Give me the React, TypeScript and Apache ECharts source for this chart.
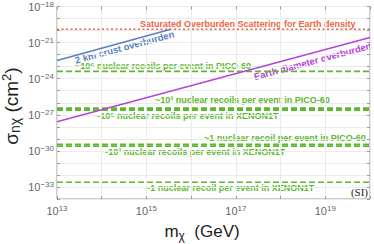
import React, { useEffect, useRef } from "react";
import * as echarts from "echarts";

// axis ranges (actual values, drawn on log10 scale)
const massRange = [1e13, 1e20];
const sigmaRange = [1e-34, 1e-18];
const xLabelExponents = [13, 15, 17, 19];
const yLabelExponents = [-33, -30, -27, -24, -21, -18];

// curves
const saturatedSigma = 1.3e-20;
const crustMass = [1e13, 3.5e15];
const crustSigma = [3.3e-23, 1.3e-20];
const earthMass = [1e13, 1e20];
const earthSigma = [2.6e-28, 2.7e-21];

// recoil thresholds: ~1e6, ~1e3, ~1 recoils per event
const picoSigma = [4e-24, 3.5e-27, 3.5e-30];
const xenonSigma = [2.5e-27, 2.5e-30, 2.5e-33];

const lg = (v: number) => Math.log10(v);

const GREEN = "#5cb82c";
const RED = "#f0623e";
const BLUE = "#5b7fc0";
const PURPLE = "#b446d6";
const FONT = "Liberation Sans";

export default function App() {
  const ref = useRef<HTMLDivElement>(null);
  useEffect(() => {
    if (!ref.current) return;
    const chart = echarts.init(ref.current, undefined, { renderer: "svg" });
    const xMin = lg(massRange[0]);
    const xMax = lg(massRange[1]);
    const yMin = lg(sigmaRange[0]);
    const yMax = lg(sigmaRange[1]);

    const hLine = (v: number) => [
      [xMin, lg(v)],
      [xMax, lg(v)],
    ];
    const pairs = (xs: number[], ys: number[]) => xs.map((x, i) => [lg(x), lg(ys[i])]);

    const supRich = {
      b: { fontSize: 11, color: "#666", fontFamily: FONT, lineHeight: 12, verticalAlign: "middle" },
      s: { fontSize: 8, color: "#666", fontFamily: FONT, lineHeight: 8, padding: [0, 0, 5, 0], verticalAlign: "middle" },
    };
    const expLabel = (list: number[]) => (v: number) => {
      const n = Math.round(v);
      if (!list.includes(n)) return "";
      return `{b|10}{s|${String(n).replace("-", "\u2212")}}`;
    };

    const dashed = (name: string, v: number, width: number) => ({
      name,
      type: "line",
      data: hLine(v),
      symbol: "none",
      silent: true,
      lineStyle: { color: GREEN, width, type: [6, 3] },
    });

    const baseAxis = {
      type: "value",
      axisLine: { show: false },
      axisTick: { show: true, inside: true, length: 3, lineStyle: { color: "#999" } },
      splitLine: { show: true, lineStyle: { color: "#ebebeb", width: 1 } },
      interval: 1,
    };

    const greenText = (text: string, x: number, y: number) => ({
      type: "text",
      x,
      y,
      silent: true,
      style: {
        text,
        fill: GREEN,
        font: `bold 9px "${FONT}"`,
        textAlign: "left",
        textVerticalAlign: "middle",
      },
    });

    const angle = Math.atan(12.06 / 44.71);

    chart.setOption({
      animation: false,
      grid: {
        left: 57,
        top: 6,
        right: 4,
        bottom: 45,
        show: true,
        borderColor: "#999",
        borderWidth: 1,
        backgroundColor: "transparent",
      },
      xAxis: [
        {
          ...baseAxis,
          min: xMin,
          max: xMax,
          axisLabel: { formatter: expLabel(xLabelExponents), rich: supRich, margin: 6, showMinLabel: true, showMaxLabel: true },
        },
        {
          ...baseAxis,
          position: "top",
          min: xMin,
          max: xMax,
          splitLine: { show: false },
          axisLabel: { show: false },
        },
      ],
      yAxis: [
        {
          ...baseAxis,
          min: yMin,
          max: yMax,
          axisLabel: { formatter: expLabel(yLabelExponents), rich: supRich, margin: 3, showMinLabel: true, showMaxLabel: true },
        },
        {
          ...baseAxis,
          position: "right",
          min: yMin,
          max: yMax,
          splitLine: { show: false },
          axisLabel: { show: false },
        },
      ],
      series: [
        dashed("PICO-60 1e6", picoSigma[0], 1.8),
        dashed("PICO-60 1e3", picoSigma[1], 1.8),
        dashed("XENON1T 1e6", xenonSigma[0], 1.8),
        dashed("PICO-60 1", picoSigma[2], 1.8),
        dashed("XENON1T 1e3", xenonSigma[1], 1.8),
        dashed("XENON1T 1", xenonSigma[2], 1.5),
        {
          name: "Saturated",
          type: "line",
          data: hLine(saturatedSigma),
          symbol: "none",
          silent: true,
          lineStyle: { color: RED, width: 1.6, type: [2, 2.5] },
        },
        {
          name: "Crust",
          type: "line",
          data: pairs(crustMass, crustSigma),
          symbol: "none",
          silent: true,
          lineStyle: { color: BLUE, width: 1.6 },
        },
        {
          name: "Earth",
          type: "line",
          data: pairs(earthMass, earthSigma),
          symbol: "none",
          silent: true,
          lineStyle: { color: PURPLE, width: 1.6 },
        },
      ],
      graphic: [
        {
          type: "text",
          x: 140,
          y: 24,
          silent: true,
          style: {
            text: "Saturated Overburden Scattering for Earth density",
            fill: RED,
            font: `bold 9px "${FONT}"`,
            textAlign: "left",
            textVerticalAlign: "middle",
          },
        },
        {
          type: "text",
          x: 124.5,
          y: 47,
          rotation: angle,
          silent: true,
          style: {
            text: "2 km crust overburden",
            fill: BLUE,
            font: `bold 9.5px "${FONT}"`,
            textAlign: "center",
            textVerticalAlign: "middle",
          },
        },
        {
          type: "text",
          x: 312.5,
          y: 61,
          rotation: angle,
          silent: true,
          style: {
            text: "Earth diameter overburden",
            fill: PURPLE,
            font: `bold 9.5px "${FONT}"`,
            textAlign: "center",
            textVerticalAlign: "middle",
          },
        },
        greenText("~10\u2076 nuclear recoils per event in PICO-60", 75, 65.5),
        greenText("~10\u00b3 nuclear recoils per event in PICO-60", 155, 100),
        greenText("~10\u2076 nuclear recoils per event in XENON1T", 95, 116),
        greenText("~1 nuclear recoil per event in PICO-60", 204, 138),
        greenText("~10\u00b3 nuclear recoils per event in XENON1T", 103, 151.5),
        greenText("~1 nuclear recoil per event in XENON1T", 145, 188),
        {
          type: "text",
          x: 368,
          y: 191.5,
          silent: true,
          style: {
            text: "(SI)",
            fill: "#222",
            font: `11px "Liberation Serif"`,
            textAlign: "right",
            textVerticalAlign: "middle",
          },
        },
        {
          type: "text",
          x: 202,
          y: 231,
          silent: true,
          style: {
            text: "{a|m}{sub|\u03c7}{a|  (GeV)}",
            textAlign: "center",
            textVerticalAlign: "middle",
            rich: {
              a: { fontSize: 17, fontFamily: FONT, fill: "#222", lineHeight: 22, verticalAlign: "middle" },
              sub: { fontSize: 12, fontFamily: FONT, fill: "#222", lineHeight: 22, verticalAlign: "bottom" },
            },
          },
        },
        {
          type: "text",
          x: 11,
          y: 106,
          rotation: Math.PI / 2,
          silent: true,
          style: {
            text: "{a|\u03c3}{sub|n\u03c7}{a| (cm}{sup|2}{a|)}",
            textAlign: "center",
            textVerticalAlign: "middle",
            rich: {
              a: { fontSize: 19, fontFamily: FONT, fill: "#222", lineHeight: 22, verticalAlign: "middle" },
              sub: { fontSize: 14, fontFamily: FONT, fill: "#222", lineHeight: 22, verticalAlign: "bottom" },
              sup: { fontSize: 13, fontFamily: FONT, fill: "#222", lineHeight: 22, verticalAlign: "top" },
            },
          },
        },
      ],
    });
    return () => chart.dispose();
  }, []);
  return <div ref={ref} style={{ position: "absolute", left: 0, top: 0, width: 374, height: 244 }} />;
}
